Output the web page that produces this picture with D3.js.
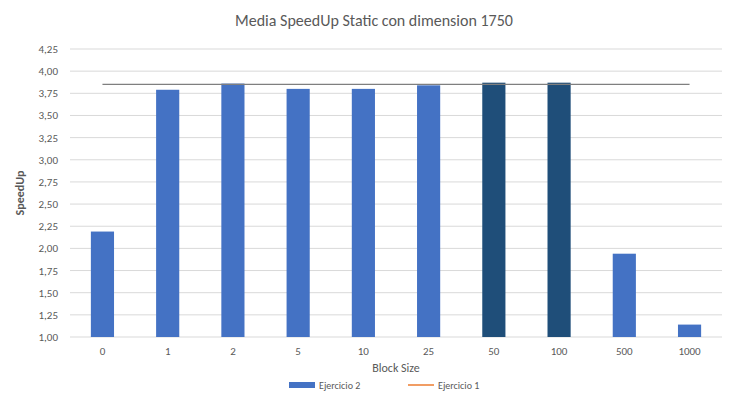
<!DOCTYPE html>
<html><head><meta charset="utf-8">
<script src="https://cdn.jsdelivr.net/npm/d3@7"></script>
<style>body{margin:0;background:#fff;font-family:Calibri,Carlito,"Open Sans",sans-serif;}</style>
</head><body><svg id="c" width="748" height="400"></svg>
<script>
const categories = ["0","1","2","5","10","25","50","100","500","1000"];
const ejercicio2 = [2.19,3.79,3.86,3.80,3.80,3.84,3.87,3.87,1.94,1.14];
const ejercicio1 = 3.85;
const highlighted = ["50","100"];
const yTicks = d3.range(1, 4.26, 0.25);

const svg = d3.select("#c");
const m = {l:70, r:26, t:49, b:63};
const W = 748, H = 400;
const x = d3.scaleBand().domain(categories).range([m.l, W - m.r]).paddingInner(0.645).paddingOuter(0.32);
const y = d3.scaleLinear().domain([1, 4.25]).range([H - m.b, m.t]);
const fmt = v => d3.format(".2f")(v).replace(".", ",");

svg.append("g").selectAll("line").data(yTicks).join("line")
  .attr("x1", m.l).attr("x2", W - m.r)
  .attr("y1", d => y(d)).attr("y2", d => y(d))
  .attr("stroke", "#d9d9d9");
svg.append("g").selectAll("text").data(yTicks).join("text")
  .attr("x", m.l - 12).attr("y", d => y(d) + 4).attr("text-anchor", "end")
  .attr("font-size", 11).attr("fill", "#595959").text(fmt);

svg.append("g").selectAll("rect").data(categories).join("rect")
  .attr("x", d => x(d)).attr("width", x.bandwidth())
  .attr("y", (d, i) => y(ejercicio2[i])).attr("height", (d, i) => y(1) - y(ejercicio2[i]))
  .attr("fill", d => highlighted.includes(d) ? "#1f4e79" : "#4472c4");

svg.append("line")
  .attr("x1", x(categories[0]) + x.bandwidth() / 2).attr("x2", x(categories[9]) + x.bandwidth() / 2)
  .attr("y1", y(ejercicio1)).attr("y2", y(ejercicio1))
  .attr("stroke", "#7f7f7f").attr("stroke-width", 1.2);

svg.append("g").selectAll("text").data(categories).join("text")
  .attr("x", d => x(d) + x.bandwidth() / 2).attr("y", H - m.b + 18).attr("text-anchor", "middle")
  .attr("font-size", 11).attr("fill", "#595959").text(d => d);

svg.append("text").attr("x", 374).attr("y", 26).attr("text-anchor", "middle")
  .attr("font-size", 16).attr("fill", "#595959").text("Media SpeedUp Static con dimension 1750");
svg.append("text").attr("x", (m.l + W - m.r) / 2).attr("y", 372).attr("text-anchor", "middle")
  .attr("font-size", 12).attr("fill", "#595959").text("Block Size");
svg.append("text").attr("transform", "translate(24,193) rotate(-90)").attr("text-anchor", "middle")
  .attr("font-size", 12).attr("font-weight", "bold").attr("fill", "#595959").text("SpeedUp");

const lg = svg.append("g").attr("font-size", 10).attr("fill", "#595959");
lg.append("rect").attr("x", 289).attr("y", 382).attr("width", 26).attr("height", 6).attr("fill", "#4472c4");
lg.append("text").attr("x", 319).attr("y", 389).text("Ejercicio 2");
lg.append("line").attr("x1", 408).attr("x2", 434).attr("y1", 385).attr("y2", 385).attr("stroke", "#ed7d31").attr("stroke-width", 1.5);
lg.append("text").attr("x", 438).attr("y", 389).text("Ejercicio 1");
</script></body></html>
